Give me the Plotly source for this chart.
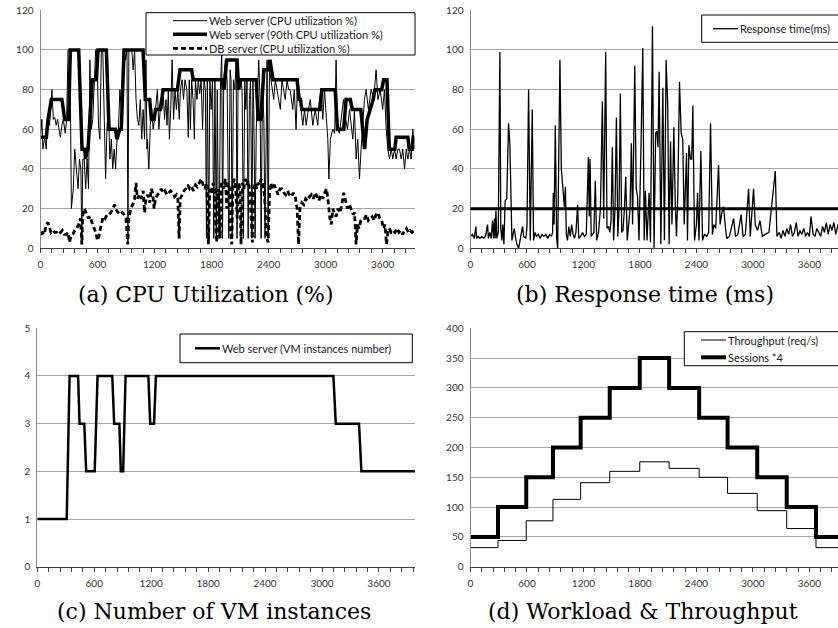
import plotly.graph_objects as go

# ---------------- DATA ----------------
x_tick_vals = [0, 600, 1200, 1800, 2400, 3000, 3600]

# (a) CPU utilization
web_t = [0, 15, 25, 45, 60, 75, 95, 105, 120, 135, 150, 165, 180, 195, 210, 225, 240, 260, 275, 290, 310, 325, 345, 360, 375, 395, 410, 425, 435, 445, 460, 475, 490, 505, 520, 535, 550, 565, 580, 595, 610, 625, 640, 655, 670, 685, 700, 715, 730, 745, 760, 775, 790, 805, 820, 835, 850, 865, 880, 895, 910, 920, 930, 945, 960, 975, 990, 1005, 1020, 1035, 1050, 1065, 1080, 1095, 1110, 1120, 1125, 1140, 1155, 1170, 1185, 1200, 1215, 1230, 1245, 1260, 1279, 1290, 1305, 1320, 1331, 1345, 1356, 1370, 1385, 1400, 1415, 1430, 1445, 1460, 1472, 1490, 1505, 1520, 1540, 1555, 1565, 1577, 1590, 1605, 1619, 1630, 1647, 1660, 1675, 1690, 1705, 1720, 1735, 1746, 1755, 1770, 1782, 1795, 1810, 1823, 1835, 1850, 1860, 1868, 1880, 1893, 1907, 1915, 1928, 1945, 1963, 1981, 1995, 2005, 2016, 2030, 2045, 2058, 2068, 2079, 2095, 2110, 2121, 2135, 2149, 2160, 2173, 2185, 2198, 2210, 2225, 2235, 2244, 2258, 2270, 2285, 2296, 2310, 2321, 2335, 2350, 2362, 2375, 2384, 2395, 2409, 2425, 2440, 2454, 2470, 2489, 2505, 2524, 2540, 2559, 2575, 2594, 2610, 2626, 2640, 2654, 2670, 2689, 2705, 2724, 2742, 2760, 2778, 2795, 2812, 2838, 2865, 2890, 2917, 2935, 2953, 2970, 2988, 3005, 3023, 3034, 3050, 3075, 3095, 3110, 3125, 3145, 3165, 3188, 3210, 3230, 3251, 3270, 3286, 3303, 3321, 3338, 3356, 3373, 3391, 3408, 3426, 3450, 3479, 3505, 3531, 3550, 3574, 3600, 3619, 3637, 3655, 3672, 3690, 3707, 3725, 3742, 3760, 3777, 3795, 3812, 3830, 3848, 3865, 3882, 3900, 3917, 3935]
web_cpu = [56, 65, 50, 56, 50, 65, 62, 70, 80, 65, 66, 62, 65, 60, 56, 62, 65, 58, 65, 100, 100, 20, 30, 50, 40, 30, 45, 40, 2, 45, 45, 30, 45, 30, 95, 60, 65, 85, 100, 100, 62, 55, 100, 100, 70, 35, 62, 70, 45, 55, 40, 50, 40, 55, 60, 80, 70, 75, 100, 95, 100, 3, 100, 100, 100, 90, 100, 75, 65, 62, 75, 55, 70, 55, 95, 50, 55, 40, 62, 70, 60, 65, 75, 80, 60, 70, 70, 80, 65, 75, 62, 80, 55, 70, 95, 65, 80, 70, 80, 65, 80, 85, 75, 85, 80, 56, 85, 60, 85, 75, 55, 85, 75, 85, 78, 85, 60, 85, 80, 5, 85, 5, 85, 70, 85, 5, 85, 5, 80, 30, 5, 80, 100, 5, 85, 95, 85, 5, 90, 85, 5, 85, 80, 95, 5, 85, 80, 85, 80, 5, 85, 70, 85, 5, 75, 85, 5, 85, 70, 5, 60, 80, 95, 75, 5, 80, 65, 5, 85, 95, 5, 90, 85, 80, 75, 85, 80, 75, 70, 85, 80, 75, 85, 80, 80, 75, 70, 80, 60, 85, 80, 70, 62, 70, 62, 68, 75, 62, 70, 62, 75, 80, 65, 80, 70, 55, 35, 55, 60, 58, 95, 60, 58, 65, 75, 65, 60, 70, 62, 55, 70, 45, 55, 35, 50, 65, 75, 80, 70, 80, 75, 90, 75, 80, 70, 80, 60, 50, 45, 50, 45, 50, 45, 50, 50, 45, 50, 40, 50, 45, 50, 45, 60, 50]

p90_t = [0, 62, 79, 114, 226, 254, 296, 314, 402, 437, 465, 475, 490, 500, 545, 588, 605, 693, 721, 788, 805, 833, 850, 879, 1079, 1103, 1149, 1167, 1195, 1210, 1260, 1290, 1440, 1468, 1590, 1607, 1905, 1930, 1960, 2068, 2085, 2105, 2270, 2290, 2320, 2350, 2395, 2414, 2430, 2447, 2700, 2718, 2735, 2750, 2940, 2960, 3100, 3125, 3190, 3205, 3215, 3260, 3280, 3370, 3390, 3410, 3437, 3470, 3500, 3520, 3590, 3610, 3645, 3670, 3728, 3742, 3865, 3880, 3910, 3922, 3935]
p90_cpu = [56, 56, 65, 75, 75, 65, 65, 100, 100, 50, 50, 45, 50, 50, 85, 85, 100, 100, 60, 60, 55, 60, 60, 100, 100, 75, 75, 65, 65, 70, 70, 80, 80, 90, 90, 85, 85, 80, 95, 95, 80, 85, 85, 65, 65, 90, 90, 95, 90, 85, 85, 75, 75, 70, 70, 80, 80, 60, 60, 70, 75, 75, 70, 70, 60, 50, 65, 70, 75, 80, 80, 85, 85, 50, 50, 56, 56, 50, 50, 56, 56]

db_t = [0, 20, 40, 60, 80, 95, 110, 130, 150, 170, 190, 210, 230, 250, 270, 290, 305, 320, 340, 360, 380, 400, 420, 435, 445, 460, 475, 490, 505, 520, 535, 550, 565, 580, 600, 615, 630, 645, 660, 680, 700, 720, 740, 760, 780, 800, 820, 840, 860, 880, 900, 918, 930, 950, 970, 990, 1005, 1020, 1040, 1060, 1080, 1095, 1110, 1130, 1150, 1165, 1180, 1195, 1210, 1230, 1250, 1270, 1290, 1310, 1330, 1350, 1370, 1390, 1410, 1430, 1445, 1458, 1470, 1490, 1510, 1530, 1550, 1570, 1590, 1610, 1630, 1650, 1670, 1690, 1710, 1730, 1750, 1767, 1780, 1800, 1815, 1830, 1845, 1855, 1870, 1890, 1905, 1925, 1945, 1960, 1975, 1990, 2000, 2012, 2025, 2040, 2055, 2070, 2085, 2100, 2110, 2125, 2140, 2155, 2170, 2185, 2200, 2215, 2230, 2245, 2260, 2275, 2290, 2305, 2320, 2335, 2350, 2365, 2380, 2395, 2410, 2425, 2440, 2460, 2480, 2500, 2520, 2540, 2560, 2580, 2600, 2620, 2640, 2660, 2680, 2700, 2715, 2730, 2750, 2770, 2790, 2810, 2830, 2850, 2870, 2890, 2910, 2930, 2950, 2970, 2990, 3010, 3030, 3045, 3060, 3075, 3090, 3110, 3130, 3150, 3170, 3190, 3210, 3230, 3250, 3270, 3290, 3305, 3320, 3335, 3350, 3370, 3390, 3410, 3430, 3450, 3470, 3490, 3510, 3530, 3550, 3570, 3590, 3610, 3625, 3640, 3655, 3670, 3690, 3710, 3730, 3750, 3770, 3790, 3810, 3830, 3850, 3870, 3890, 3910, 3935]
db_cpu = [7, 8, 7, 12, 13, 10, 8, 9, 8, 8, 7, 8, 9, 7, 7, 8, 3, 6, 7, 9, 10, 12, 15, 2, 17, 20, 18, 17, 15, 16, 14, 12, 10, 8, 4, 6, 10, 14, 16, 15, 17, 17, 18, 20, 22, 19, 18, 17, 18, 17, 15, 2, 15, 20, 22, 25, 33, 25, 27, 25, 29, 18, 25, 27, 23, 30, 28, 20, 25, 27, 28, 30, 28, 29, 27, 28, 29, 28, 26, 27, 25, 5, 25, 27, 29, 30, 32, 30, 31, 29, 32, 31, 33, 35, 32, 30, 33, 2, 30, 28, 33, 30, 10, 3, 30, 5, 33, 30, 35, 20, 33, 30, 10, 2, 33, 35, 30, 15, 33, 30, 2, 33, 30, 35, 32, 34, 30, 15, 3, 30, 33, 30, 33, 32, 35, 33, 30, 20, 5, 3, 28, 33, 30, 32, 29, 27, 30, 30, 28, 27, 29, 27, 26, 28, 26, 20, 2, 20, 23, 22, 25, 24, 26, 27, 25, 28, 26, 24, 27, 25, 28, 30, 22, 15, 12, 20, 18, 16, 20, 18, 22, 28, 24, 20, 22, 19, 17, 18, 2, 12, 10, 14, 15, 15, 17, 14, 15, 16, 14, 17, 18, 15, 14, 10, 12, 2, 8, 10, 8, 9, 8, 10, 8, 9, 7, 9, 10, 8, 9, 8, 9]

# (b) Response time
rt_t = [0, 20, 40, 57, 65, 80, 100, 120, 140, 160, 181, 190, 205, 220, 234, 245, 255, 262, 270, 280, 295, 312, 322, 333, 343, 355, 368, 385, 404, 418, 440, 452, 465, 480, 493, 511, 525, 540, 553, 565, 588, 600, 617, 635, 656, 670, 685, 700, 720, 740, 760, 780, 800, 820, 840, 860, 872, 880, 888, 901, 915, 926, 950, 965, 980, 997, 1008, 1018, 1030, 1045, 1060, 1075, 1090, 1105, 1120, 1138, 1150, 1170, 1190, 1210, 1230, 1252, 1262, 1270, 1282, 1295, 1310, 1326, 1340, 1360, 1380, 1401, 1415, 1436, 1450, 1465, 1480, 1493, 1507, 1520, 1535, 1550, 1565, 1578, 1592, 1606, 1620, 1635, 1649, 1665, 1680, 1695, 1709, 1722, 1745, 1760, 1775, 1790, 1812, 1830, 1845, 1858, 1875, 1897, 1912, 1933, 1950, 1967, 1980, 1992, 2004, 2022, 2043, 2060, 2078, 2095, 2110, 2125, 2140, 2160, 2175, 2188, 2202, 2220, 2238, 2255, 2270, 2295, 2305, 2320, 2337, 2350, 2362, 2380, 2400, 2412, 2427, 2447, 2465, 2485, 2510, 2530, 2550, 2570, 2585, 2605, 2635, 2652, 2670, 2688, 2705, 2722, 2750, 2775, 2795, 2815, 2840, 2875, 2895, 2920, 2954, 2972, 3007, 3025, 3050, 3075, 3100, 3130, 3170, 3238, 3255, 3280, 3300, 3320, 3340, 3360, 3380, 3400, 3420, 3440, 3460, 3480, 3500, 3520, 3540, 3560, 3580, 3600, 3617, 3640, 3660, 3680, 3700, 3720, 3740, 3760, 3780, 3800, 3820, 3840, 3860, 3880, 3904]
rt_ms = [6, 7, 5, 11, 5, 6, 5, 6, 5, 6, 12, 5, 8, 5, 14, 5, 15, 5, 19, 5, 8, 99, 10, 4, 12, 2, 24, 25, 63, 53, 4, 8, 10, 5, 2, 0, 4, 8, 11, 6, 5, 11, 80, 4, 70, 4, 8, 6, 7, 5, 7, 6, 7, 5, 7, 6, 8, 28, 12, 62, 5, 0, 95, 40, 30, 21, 31, 7, 4, 11, 6, 12, 7, 5, 8, 22, 5, 6, 8, 6, 7, 46, 16, 45, 6, 7, 8, 34, 4, 8, 20, 74, 15, 99, 10, 11, 8, 14, 51, 4, 20, 66, 6, 20, 78, 8, 9, 20, 36, 4, 12, 20, 53, 12, 92, 30, 26, 4, 53, 101, 4, 29, 4, 28, 3, 112, 0, 58, 59, 51, 89, 2, 81, 4, 95, 72, 2, 54, 12, 61, 23, 6, 27, 84, 58, 55, 12, 48, 4, 52, 45, 45, 72, 4, 12, 28, 4, 49, 4, 7, 6, 8, 63, 7, 12, 10, 42, 12, 18, 21, 12, 5, 6, 11, 15, 6, 7, 17, 6, 7, 30, 6, 30, 12, 9, 14, 6, 7, 8, 39, 6, 8, 5, 9, 6, 10, 7, 12, 6, 8, 13, 6, 9, 7, 10, 6, 8, 6, 16, 7, 6, 10, 8, 6, 11, 8, 13, 7, 12, 9, 13, 7, 12]
sla_ms = 20

# (c) VM instances
vm_t = [0, 310, 340, 430, 445, 495, 515, 605, 635, 790, 810, 865, 880, 905, 930, 1170, 1190, 1230, 1250, 3120, 3145, 3390, 3415, 3980]
vm_count = [1, 1, 4, 4, 3, 3, 2, 2, 4, 4, 3, 3, 2, 2, 4, 4, 3, 3, 4, 4, 3, 3, 2, 2]

# (d) Workload & throughput (step start times)
step_t = [0, 292, 592, 876, 1170, 1479, 1798, 2110, 2429, 2731, 3046, 3359, 3670, 3904]
throughput = [32, 44, 77, 113, 141, 160, 176, 165, 150, 123, 94, 64, 32, 32]
sessions4 = [50, 100, 150, 200, 250, 300, 350, 300, 250, 200, 150, 100, 50, 50]

# ---------------- FIGURE ----------------
W, H = 838, 628
def fx(p):
    return p / W
def fy(p):
    return 1 - p / H

TICKFONT = dict(family="Lato, Carlito, sans-serif", size=10, color="#333333")
GRID = "#a6a6a6"

fig = go.Figure()

# panel a
fig.add_trace(go.Scatter(x=web_t, y=web_cpu, mode="lines", line=dict(color="black", width=1),
                         xaxis="x", yaxis="y", showlegend=False))
fig.add_trace(go.Scatter(x=p90_t, y=p90_cpu, mode="lines", line=dict(color="black", width=3.5),
                         xaxis="x", yaxis="y", showlegend=False))
fig.add_trace(go.Scatter(x=db_t, y=db_cpu, mode="lines", line=dict(color="black", width=2.8, dash="5px,3px"),
                         xaxis="x", yaxis="y", showlegend=False))
# panel b
fig.add_trace(go.Scatter(x=rt_t, y=rt_ms, mode="lines", line=dict(color="black", width=1.3),
                         xaxis="x2", yaxis="y2", showlegend=False))
fig.add_shape(type="line", xref="x2 domain", yref="y2", x0=0, x1=1, y0=sla_ms, y1=sla_ms,
              line=dict(color="black", width=3))
# panel c
fig.add_trace(go.Scatter(x=vm_t, y=vm_count, mode="lines", line=dict(color="black", width=2.5),
                         xaxis="x3", yaxis="y3", showlegend=False))
# panel d
fig.add_trace(go.Scatter(x=step_t, y=throughput, mode="lines", line=dict(color="black", width=1, shape="hv"),
                         xaxis="x4", yaxis="y4", showlegend=False))
fig.add_trace(go.Scatter(x=step_t, y=sessions4, mode="lines", line=dict(color="black", width=4, shape="hv"),
                         xaxis="x4", yaxis="y4", showlegend=False))


def xax(domain, rng, anchor):
    return dict(domain=domain, range=rng, anchor=anchor, tickmode="array", tickvals=x_tick_vals,
                ticks="outside", ticklen=4, tickcolor="#404040", tickwidth=1,
                minor=dict(dtick=120, tick0=0, ticks="outside", ticklen=4, tickcolor="#404040", showgrid=False),
                showline=True, linecolor="#404040", linewidth=1, showgrid=False, zeroline=False,
                tickfont=TICKFONT, automargin=False, fixedrange=True, ticklabelstandoff=3)


def yax(domain, rng, dtick, anchor):
    return dict(domain=domain, range=rng, anchor=anchor, dtick=dtick, tick0=0, ticks="",
                showline=True, linecolor="#8c8c8c", linewidth=1, showgrid=True, gridcolor=GRID,
                gridwidth=1, zeroline=False, tickfont=TICKFONT, automargin=False,
                ticklabelstandoff=4, fixedrange=True)


fig.update_layout(
    width=W, height=H, margin=dict(l=0, r=0, t=0, b=0), template="none",
    plot_bgcolor="white", paper_bgcolor="white", showlegend=False,
    xaxis=xax([fx(40.5), fx(414.5)], [0, 3935], "y"),
    yaxis=yax([fy(248.3), fy(10.3)], [0, 120], 20, "x"),
    xaxis2=xax([fx(470.5), 1.0], [0, 3904], "y2"),
    yaxis2=yax([fy(248.3), fy(10.3)], [0, 120], 20, "x2"),
    xaxis3=xax([fx(37.3), fx(415)], [0, 3980], "y3"),
    yaxis3=yax([fy(566.7), fy(328.3)], [0, 5], 1, "x3"),
    xaxis4=xax([fx(470.5), 1.0], [0, 3904], "y4"),
    yaxis4=yax([fy(566.7), fy(328.3)], [0, 400], 50, "x4"),
)

# captions
CAPFONT = dict(family="DejaVu Serif, serif", size=22, color="black")
captions = [("(a) CPU Utilization (%)", 205.5, 294), ("(b) Response time (ms)", 644.5, 294),
            ("(c) Number of VM instances", 213.5, 611), ("(d) Workload & Throughput", 643.3, 611)]
for txt, cx, cy in captions:
    fig.add_annotation(text=txt, xref="paper", yref="paper", x=fx(cx), y=fy(cy), showarrow=False,
                       xanchor="center", yanchor="middle", font=CAPFONT)

# legends (drawn as boxes + samples + text)
LEGFONT = dict(family="Lato, Carlito, sans-serif", size=11, color="#1a1a1a")


def legend_box(x0, y0, x1, y1):
    fig.add_shape(type="rect", xref="paper", yref="paper", x0=fx(x0), x1=fx(x1), y0=fy(y1), y1=fy(y0),
                  line=dict(color="black", width=1), fillcolor="white", layer="above")


def legend_item(sx0, sx1, yy, text, width, dash=None):
    ln = dict(color="black", width=width)
    if dash:
        ln["dash"] = dash
    fig.add_shape(type="line", xref="paper", yref="paper", x0=fx(sx0), x1=fx(sx1), y0=fy(yy), y1=fy(yy),
                  line=ln, layer="above")
    fig.add_annotation(text=text, xref="paper", yref="paper", x=fx(sx1 + 0.5), y=fy(yy), showarrow=False,
                       xanchor="left", yanchor="middle", font=LEGFONT, borderpad=0)


legend_box(146, 12.7, 415, 55)
legend_item(173, 207, 20.7, "Web server (CPU utilization %)", 1)
legend_item(173, 207, 34.3, "Web server (90th CPU utilization %)", 3.5)
legend_item(173, 207, 48.3, "DB server (CPU utilization %)", 2.8, "5px,3px")

legend_box(701.7, 15, 845, 42.3)
legend_item(713, 738, 28.7, "Response time(ms)", 1.3)

legend_box(180, 334, 412.3, 362.7)
legend_item(195, 220, 348.3, "Web server (VM instances number)", 2.5)

legend_box(684.3, 331.7, 845, 365.7)
legend_item(701, 726, 340, "Throughput (req/s)", 1)
legend_item(701, 726, 357.3, "Sessions *4", 4)

fig.write_html("out.html", config={"displayModeBar": False},
               post_script="document.body.style.margin='0px';document.body.style.padding='0px';")
